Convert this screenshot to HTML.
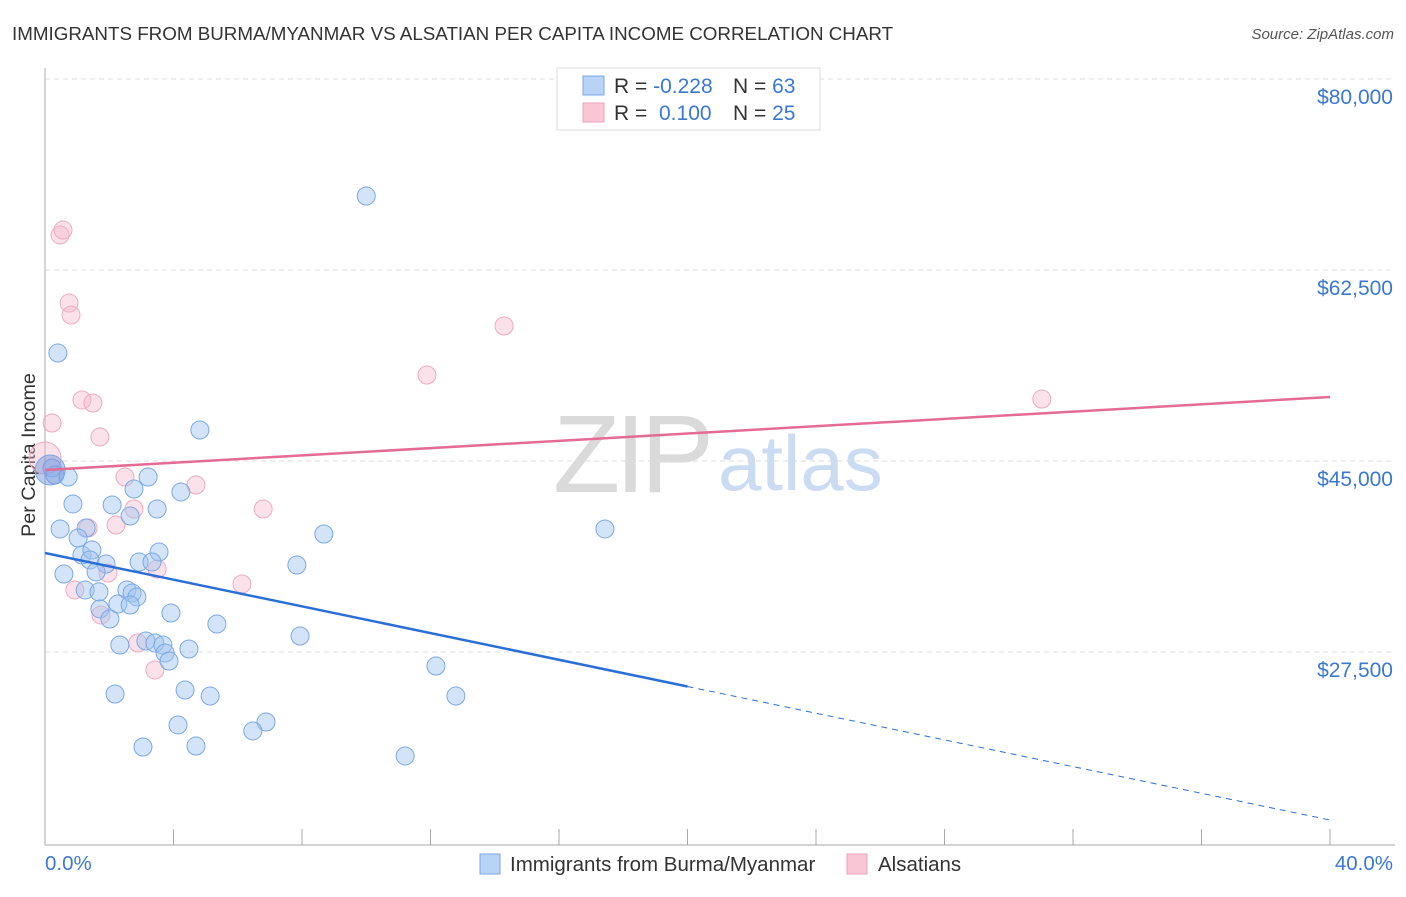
<!DOCTYPE html>
<html><head><meta charset="utf-8"><style>
body{margin:0;background:#fff;font-family:"Liberation Sans",sans-serif}
svg text{font-family:"Liberation Sans",sans-serif}
</style></head><body>
<svg id="chart" width="1406" height="892" xmlns="http://www.w3.org/2000/svg">
<text x="12" y="40" font-size="18.8" fill="#333">IMMIGRANTS FROM BURMA/MYANMAR VS ALSATIAN PER CAPITA INCOME CORRELATION CHART</text>
<text x="1394" y="39" font-size="15" fill="#555" font-style="italic" text-anchor="end">Source: ZipAtlas.com</text>
<g>
<text x="553" y="492" font-size="110" fill="#dadada" font-family="Liberation Serif" letter-spacing="-5">ZIP</text>
<text x="718" y="490" font-size="78" fill="#cadcf2">atlas</text>
</g>
<g id="grid"></g>
<line x1="45" y1="68" x2="45" y2="845" stroke="#aaa"/>
<line x1="45" y1="845" x2="1395" y2="845" stroke="#aaa"/>
<text x="28" y="455" font-size="19.8" fill="#333" transform="rotate(-90 28 455)" text-anchor="middle" dy="7">Per Capita Income</text>
<text x="45" y="870" font-size="20.5" fill="#3a78d4">0.0%</text>
<text x="1393" y="870" font-size="20.5" fill="#3a78d4" text-anchor="end">40.0%</text>
<g id="pts"></g>
<g id="lines"></g>
<g>
<rect x="557" y="68" width="263" height="62" fill="#fff" stroke="#ddd"/>
<rect x="583" y="76" width="21" height="19" fill="#b8d3f5" stroke="#7aa8e8"/>
<rect x="583" y="103" width="21" height="19" fill="#f9c6d5" stroke="#eea3bb"/>
<text x="614" y="93" font-size="21" fill="#333">R = <tspan fill="#3a78d4">-0.228</tspan><tspan x="733">N = </tspan><tspan fill="#3a78d4">63</tspan></text>
<text x="614" y="120" font-size="21" fill="#333">R = <tspan x="659" fill="#3a78d4">0.100</tspan><tspan x="733">N = </tspan><tspan fill="#3a78d4">25</tspan></text>
</g>
<g>
<rect x="480" y="854" width="20" height="20" fill="#b8d3f5" stroke="#7aa8e8"/>
<text x="510" y="871" font-size="20.5" fill="#333">Immigrants from Burma/Myanmar</text>
<rect x="847" y="854" width="20" height="20" fill="#f9c6d5" stroke="#eea3bb"/>
<text x="878" y="871" font-size="20.5" fill="#333">Alsatians</text>
</g>
</svg>
<script>
const yTicks=[80000,62500,45000,27500];
const yTickLabels=["$80,000","$62,500","$45,000","$27,500"];
const xTicks=[0,4,8,12,16,20,24,28,32,36,40];
const blueX=[10.0,0.40,4.82,0.22,0.31,0.72,3.21,2.77,4.23,2.09,0.87,3.49,2.65,0.47,1.28,1.03,8.68,17.43,1.15,3.55,1.46,1.40,1.90,2.93,3.33,0.59,1.59,7.84,1.25,2.55,1.68,2.71,2.86,2.27,2.65,1.71,3.92,2.02,5.35,7.94,2.33,3.14,3.42,3.67,3.74,3.86,4.48,12.17,4.36,2.18,5.14,12.79,4.14,6.88,6.47,3.05,4.70,11.21];
const blueY=[69280,54890,47840,44360,43710,43530,43530,42430,42160,40970,41060,40600,39960,38770,38860,37940,38310,38770,36380,36660,36840,35930,35560,35740,35740,34640,34830,35470,33180,33180,33000,32900,32540,31890,31800,31440,31070,30520,30060,28960,28140,28500,28320,28140,27400,26670,27770,26210,24010,23650,23460,23460,20810,21080,20260,18790,18880,17970];
const pinkX=[0.47,0.56,0.75,0.81,14.29,11.89,0.22,1.15,1.49,1.71,31.03,2.49,4.70,2.77,6.79,2.21,1.34,1.96,3.49,6.13,0.93,1.74,2.89,3.42];
const pinkY=[65710,66160,59470,58370,57370,52880,48480,50590,50310,47200,50680,43530,42800,40600,40600,39130,38860,34740,35100,33730,33180,30890,28320,25850];
const bigBlue=[0.16,44170], bigPink=[0.0,45270];
const blueTrend=[36570,12100], pinkTrend=[44170,50860], blueSolidEnd=20;
const sx=v=>45+v*32.125, sy=v=>79+(80000-v)/91.63;
const NS="http://www.w3.org/2000/svg";
function mk(parent,tag,attrs){const e=document.createElementNS(NS,tag);for(const k in attrs)e.setAttribute(k,attrs[k]);document.getElementById(parent).appendChild(e);return e;}
yTicks.forEach((t,i)=>{
 const l=mk('grid','line',{x1:45,x2:1395,y1:sy(t),y2:sy(t),stroke:'#ddd','stroke-dasharray':'5,4'});
 
 
 const tx=mk('grid','text',{x:1393,y:sy(t)+25,'font-size':21,fill:'#3a78d4','text-anchor':'end'});
 tx.textContent=yTickLabels[i];
 
 
});
xTicks.forEach(t=>{
 const l=mk('grid','line',{x1:sx(t),x2:sx(t),y1:829,y2:845,stroke:'#aaa'});
 
 
});
function dot(x,y,r,fill,stroke,name){
 const c=mk('pts','circle',{cx:sx(x),cy:sy(y),r:r,fill:fill,stroke:stroke,'stroke-width':1});
 
 
}
const bf='rgba(160,196,240,0.45)',bs='#7aa8e6',pf='rgba(246,182,202,0.4)',ps='#eeaac0';
pinkX.forEach((x,i)=>dot(x,pinkY[i],9,pf,ps,'alsatian-point'));
dot(bigPink[0],bigPink[1],16,pf,ps,'alsatian-point');
blueX.forEach((x,i)=>dot(x,blueY[i],9,bf,bs,'burma-point'));
dot(bigBlue[0],bigBlue[1],15,'rgba(120,150,220,0.5)',bs,'burma-point');
const by=x=>blueTrend[0]+(blueTrend[1]-blueTrend[0])*x/40;
let l=mk('lines','line',{x1:sx(0),y1:sy(by(0)),x2:sx(blueSolidEnd),y2:sy(by(blueSolidEnd)),stroke:'#2a6fd8','stroke-width':2.5});


l=mk('lines','line',{x1:sx(blueSolidEnd),y1:sy(by(blueSolidEnd)),x2:sx(40),y2:sy(by(40)),stroke:'#2a6fd8','stroke-width':1,'stroke-dasharray':'6,5'});


l=mk('lines','line',{x1:sx(0),y1:sy(pinkTrend[0]),x2:sx(40),y2:sy(pinkTrend[1]),stroke:'#e56b93','stroke-width':2.5});


</script>
</body></html>
